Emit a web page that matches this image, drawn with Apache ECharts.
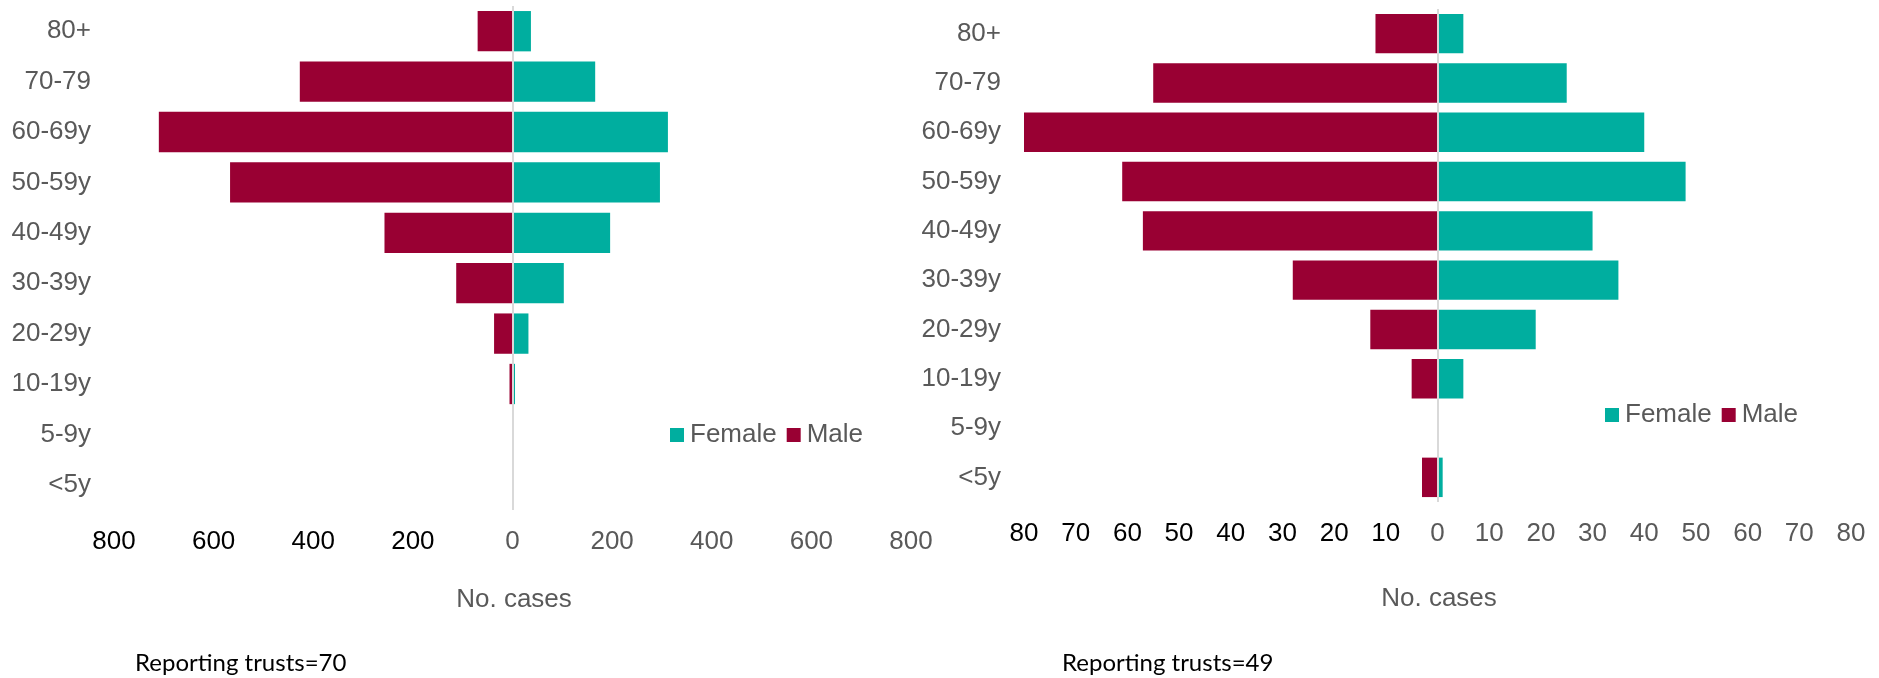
<!DOCTYPE html>
<html>
<head>
<meta charset="utf-8">
<title>Cases by age group and sex</title>
<script src="https://cdn.jsdelivr.net/npm/echarts@6/dist/echarts.min.js"></script>
<style>
  html, body { margin: 0; padding: 0; background: #fff; }
  #chart { width: 1879px; height: 678px; }
</style>
</head>
<body>
<div id="chart"></div>
<script>
// Age bands, listed bottom to top
const ageBands = ['<5y', '5-9y', '10-19y', '20-29y', '30-39y', '40-49y', '50-59y', '60-69y', '70-79', '80+'];

// Left panel (70 reporting trusts)
const leftFemale = [2, 0, 5, 32, 103, 196, 296, 312, 166, 37];
const leftMale   = [1, 0, 6, 37, 113, 257, 567, 710, 427, 70];
const leftTicks  = { min: -800, max: 800, interval: 200 };

// Right panel (49 reporting trusts)
const rightFemale = [1, 0, 5, 19, 35, 30, 48, 40, 25, 5];
const rightMale   = [3, 0, 5, 13, 28, 57, 61, 80, 55, 12];
const rightTicks  = { min: -80, max: 80, interval: 10 };

const seriesNames = ['Female', 'Male'];
const notes = ['Reporting trusts=70', 'Reporting trusts=49'];
const axisTitle = 'No. cases';

const FEMALE = '#00AE9F';
const MALE = '#990033';
const GREY = '#595959';
const FONT = '"Liberation Sans", Arial, sans-serif';
const SIZE = 26;

function xAxisFor(gridIndex, ticks) {
  return {
    type: 'value', gridIndex,
    min: ticks.min, max: ticks.max, interval: ticks.interval,
    axisLine: { show: false }, axisTick: { show: false }, splitLine: { show: false },
    axisLabel: {
      margin: 19,
      formatter: v => v < 0 ? '{neg|' + (-v) + '}' : '{pos|' + v + '}',
      rich: {
        neg: { color: '#000', fontSize: SIZE, fontFamily: FONT },
        pos: { color: GREY, fontSize: SIZE, fontFamily: FONT }
      }
    }
  };
}

function yAxisFor(gridIndex) {
  return {
    type: 'category', gridIndex, data: ageBands,
    axisLine: { show: false }, axisTick: { show: false }, splitLine: { show: false },
    axisLabel: { color: GREY, fontSize: SIZE, fontFamily: FONT, margin: 23 }
  };
}

function barPair(axisIndex, female, male) {
  return [
    {
      name: seriesNames[0], type: 'bar', stack: 'p' + axisIndex,
      xAxisIndex: axisIndex, yAxisIndex: axisIndex,
      barCategoryGap: '20%',
      itemStyle: { color: FEMALE },
      data: female,
      markLine: {
        silent: true, symbol: 'none', label: { show: false },
        lineStyle: { color: '#d9d9d9', width: 2, type: 'solid' },
        data: [{ xAxis: 0 }],
        animation: false
      }
    },
    {
      name: seriesNames[1], type: 'bar', stack: 'p' + axisIndex,
      xAxisIndex: axisIndex, yAxisIndex: axisIndex,
      barCategoryGap: '20%',
      itemStyle: { color: MALE },
      data: male.map(v => -v)
    }
  ];
}

function legendAt(left, top) {
  return {
    data: seriesNames, left, top, orient: 'horizontal',
    icon: 'rect', itemWidth: 14, itemHeight: 14, itemGap: 10, padding: 0,
    textStyle: { color: GREY, fontSize: SIZE, fontFamily: FONT, lineHeight: 28, padding: [0, 0, 0, 1] },
    selectedMode: false
  };
}

function text(x, y, str, opts) {
  return {
    type: 'text', x, y,
    style: Object.assign({ text: str, fill: GREY, fontSize: SIZE, fontFamily: FONT,
      align: 'center', verticalAlign: 'middle' }, opts || {})
  };
}

const noteStyle = { fill: '#000', fontSize: 24, fontFamily: 'Lato, "Open Sans", sans-serif', align: 'left' };

const chart = echarts.init(document.getElementById('chart'), null, { renderer: 'canvas' });
chart.setOption({
  animation: false,
  backgroundColor: '#fff',
  grid: [
    { left: 114, width: 797, top: 6, height: 504 },
    { left: 1024, width: 827, top: 9, height: 493 }
  ],
  xAxis: [xAxisFor(0, leftTicks), xAxisFor(1, rightTicks)],
  yAxis: [yAxisFor(0), yAxisFor(1)],
  legend: [legendAt(670, 421), legendAt(1605, 401)],
  series: [...barPair(0, leftFemale, leftMale), ...barPair(1, rightFemale, rightMale)],
  graphic: [
    text(514, 600, axisTitle),
    text(1439, 599, axisTitle),
    text(135, 663, notes[0], noteStyle),
    text(1062, 663, notes[1], noteStyle)
  ]
});
</script>
</body>
</html>
